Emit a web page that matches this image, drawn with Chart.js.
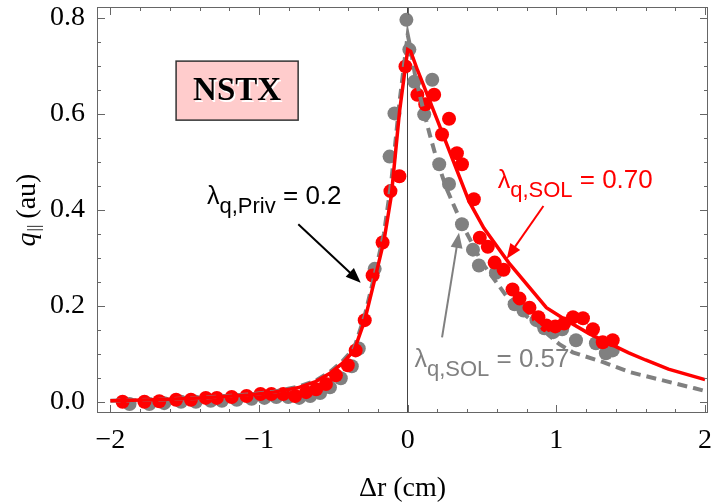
<!DOCTYPE html>
<html><head><meta charset="utf-8">
<script src="https://cdn.jsdelivr.net/npm/chart.js@4.4.0/dist/chart.umd.min.js"></script>
<style>html,body{margin:0;padding:0;background:#fff;}</style>
</head><body>
<canvas id="c" width="715" height="503"></canvas>
<script>
// ---- tick labels ----
const xTicks = [-2, -1, 0, 1, 2];
const yTicks = [0, 0.2, 0.4, 0.6, 0.8];

// ---- measured points (red, lambda_SOL = 0.70 case) ----
const redPtsX = [-1.918,-1.771,-1.671,-1.558,-1.458,-1.358,-1.284,-1.184,-1.084,-0.99,-0.917,-0.837,-0.757,-0.683,-0.616,-0.55,-0.483,-0.403,-0.35,-0.289,-0.236,-0.169,-0.116,-0.056,-0.015,
  0.065,0.118,0.178,0.231,0.278,0.331,0.365,0.445,0.485,0.539,0.585,0.645,0.705,0.752,0.819,0.879,0.933,0.993,1.052,1.112,1.179,1.246,1.312,1.379];
const redPtsY = [0.0,0.0,0.001,0.004,0.004,0.008,0.008,0.010,0.012,0.016,0.016,0.016,0.012,0.020,0.026,0.037,0.055,0.076,0.107,0.170,0.263,0.332,0.439,0.470,0.699,
  0.64,0.62,0.64,0.557,0.59,0.518,0.495,0.422,0.342,0.323,0.29,0.275,0.234,0.215,0.196,0.176,0.159,0.157,0.163,0.176,0.174,0.151,0.124,0.128];

// ---- measured points (gray, lambda_SOL = 0.57 case) ----
const grayPtsX = [-1.871,-1.738,-1.638,-1.525,-1.425,-1.325,-1.25,-1.15,-1.05,-0.964,-0.884,-0.804,-0.73,-0.656,-0.589,-0.523,-0.45,-0.376,-0.329,-0.222,-0.122,-0.089,-0.009,
  0.011,0.045,0.165,0.111,0.212,0.278,0.365,0.439,0.479,0.593,0.719,0.779,0.866,0.919,0.979,1.039,1.132,1.266,1.333,1.379];
const grayPtsY = [-0.005,-0.005,-0.003,0.0,0.0,0.002,0.002,0.004,0.006,0.008,0.010,0.010,0.008,0.012,0.018,0.03,0.049,0.074,0.111,0.277,0.511,0.601,0.796,
  0.734,0.667,0.671,0.599,0.495,0.454,0.37,0.317,0.284,0.269,0.203,0.19,0.17,0.153,0.145,0.151,0.128,0.122,0.101,0.107];

// ---- fitted profiles ----
const redFitX = [-2.0,-1.7,-1.4,-1.07,-0.9,-0.74,-0.62,-0.52,-0.44,-0.36,-0.29,-0.22,-0.16,-0.11,-0.055,0,0.02,0.065,0.198,0.412,0.512,0.679,0.933,1.066,1.22,1.4,1.487,1.6,1.754,1.9,2.0];
const redFitY = [0.002,0.004,0.008,0.014,0.02,0.029,0.042,0.06,0.08,0.107,0.169,0.257,0.335,0.43,0.605,0.734,0.73,0.692,0.588,0.418,0.362,0.29,0.196,0.170,0.142,0.115,0.102,0.087,0.068,0.055,0.046];
const grayFitX = [-2.0,-1.7,-1.4,-1.07,-0.9,-0.74,-0.62,-0.52,-0.44,-0.36,-0.29,-0.22,-0.16,-0.11,-0.055,0,0.02,0.05,0.1,0.15,0.2,0.26,0.366,0.5,0.7,0.85,1.02,1.11,1.31,1.49,1.71,1.93,2.03];
const grayFitY = [0.002,0.004,0.008,0.015,0.021,0.031,0.044,0.063,0.084,0.112,0.178,0.268,0.35,0.46,0.625,0.765,0.735,0.68,0.615,0.555,0.5,0.445,0.37,0.29,0.205,0.165,0.12,0.103,0.083,0.062,0.045,0.028,0.02];

const pts = (xs, ys) => xs.map((v, i) => ({x: v, y: ys[i]}));

const RED = '#ff0000', GRAY = '#808080';
const SERIF = '"Liberation Serif", "Times New Roman", serif';
const SANS = '"Liberation Sans", Arial, sans-serif';

function arrow(ctx, x1, y1, x2, y2, color) {
  const ang = Math.atan2(y2 - y1, x2 - x1), L = 15, W = 6;
  ctx.save();
  ctx.strokeStyle = color; ctx.fillStyle = color; ctx.lineWidth = 2;
  ctx.beginPath();
  ctx.moveTo(x1, y1);
  ctx.lineTo(x2 - L * 0.8 * Math.cos(ang), y2 - L * 0.8 * Math.sin(ang));
  ctx.stroke();
  ctx.beginPath();
  ctx.moveTo(x2, y2);
  ctx.lineTo(x2 - L * Math.cos(ang) + W * Math.sin(ang), y2 - L * Math.sin(ang) - W * Math.cos(ang));
  ctx.lineTo(x2 - L * Math.cos(ang) - W * Math.sin(ang), y2 - L * Math.sin(ang) + W * Math.cos(ang));
  ctx.closePath(); ctx.fill();
  ctx.restore();
}

function lambdaLabel(ctx, x, y, sub, rest, color) {
  ctx.save();
  ctx.fillStyle = color; ctx.textBaseline = 'alphabetic'; ctx.textAlign = 'left';
  ctx.font = '25px ' + SANS;
  ctx.fillText('λ', x, y);
  let cx = x + ctx.measureText('λ').width;
  ctx.font = '22px ' + SANS;
  ctx.fillText(sub, cx, y + 9);
  cx += ctx.measureText(sub).width;
  ctx.font = '26px ' + SANS;
  ctx.fillText(rest, cx, y);
  ctx.restore();
}

const deco = {
  id: 'deco',
  beforeDatasetsDraw(chart) {
    const {ctx, chartArea: a, scales: {x}} = chart;
    const px = Math.round(x.getPixelForValue(0)) - 0.5;
    ctx.save();
    ctx.strokeStyle = '#444'; ctx.lineWidth = 1;
    ctx.beginPath(); ctx.moveTo(px, a.top); ctx.lineTo(px, a.bottom); ctx.stroke();
    ctx.restore();
  },
  afterDatasetsDraw(chart) {
    const {ctx, chartArea: a, scales: {x, y}} = chart;
    const X = v => x.getPixelForValue(v), Y = v => y.getPixelForValue(v);
    ctx.save();
    ctx.strokeStyle = '#666'; ctx.lineWidth = 1;
    ctx.strokeRect(a.left + 0.5, a.top + 0.5, a.width - 1, a.height - 1);
    ctx.beginPath();
    for (let i = -10; i <= 10; i++) {
      const v = i * 0.2, major = i % 5 === 0, L = major ? 8 : 4;
      const p = Math.round(X(v)) + 0.5;
      if (p < a.left || p > a.right) continue;
      ctx.moveTo(p, a.bottom); ctx.lineTo(p, a.bottom - L);
      ctx.moveTo(p, a.top); ctx.lineTo(p, a.top + L);
    }
    for (let i = 0; i <= 16; i++) {
      const v = i * 0.05, major = i % 4 === 0, L = major ? 8 : 4;
      const p = Math.round(Y(v)) + 0.5;
      ctx.moveTo(a.left, p); ctx.lineTo(a.left + L, p);
      ctx.moveTo(a.right, p); ctx.lineTo(a.right - L, p);
    }
    ctx.stroke();
    ctx.restore();

    // NSTX box
    ctx.save();
    const bx1 = X(-1.558), bx2 = X(-0.737), by1 = Y(0.71), by2 = Y(0.587);
    ctx.fillStyle = '#ffcccc'; ctx.fillRect(bx1, by1, bx2 - bx1, by2 - by1);
    ctx.strokeStyle = '#333'; ctx.lineWidth = 1.5; ctx.strokeRect(bx1, by1, bx2 - bx1, by2 - by1);
    ctx.font = 'bold 33px ' + SERIF; ctx.textAlign = 'center'; ctx.textBaseline = 'middle';
    const tx = (bx1 + bx2) / 2, ty = (by1 + by2) / 2 + 1;
    ctx.fillStyle = '#fff'; ctx.fillText('NSTX', tx + 1.5, ty + 1.5);
    ctx.fillStyle = '#000'; ctx.fillText('NSTX', tx, ty);
    ctx.restore();

    // annotations
    lambdaLabel(ctx, X(-1.35), Y(0.412), 'q,Priv', ' = 0.2', '#000');
    arrow(ctx, X(-0.736), Y(0.370), X(-0.316), Y(0.248), '#000');
    lambdaLabel(ctx, X(0.605), Y(0.445), 'q,SOL', ' = 0.70', RED);
    arrow(ctx, X(0.913), Y(0.408), X(0.666), Y(0.298), RED);
    lambdaLabel(ctx, X(0.045), Y(0.072), 'q,SOL', ' = 0.57', GRAY);
    arrow(ctx, X(0.231), Y(0.134), X(0.345), Y(0.352), GRAY);

    // y axis title: q|| (au)
    ctx.save();
    ctx.translate(28, (a.top + a.bottom) / 2);
    ctx.rotate(-Math.PI / 2);
    ctx.fillStyle = '#000'; ctx.textBaseline = 'middle'; ctx.textAlign = 'left';
    ctx.font = 'italic 28px ' + SERIF; const w1 = ctx.measureText('q').width;
    ctx.font = '17px ' + SERIF; const w2 = ctx.measureText('||').width;
    ctx.font = '28px ' + SERIF; const w3 = ctx.measureText(' (au)').width;
    let sx = -(w1 + w2 + w3) / 2;
    ctx.font = 'italic 28px ' + SERIF; ctx.fillText('q', sx, 0); sx += w1 + 1;
    ctx.font = '17px ' + SERIF; ctx.fillText('||', sx, 7); sx += w2 - 1;
    ctx.font = '28px ' + SERIF; ctx.fillText(' (au)', sx, 0);
    ctx.restore();
  }
};

new Chart(document.getElementById('c'), {
  type: 'scatter',
  data: {
    datasets: [
      {data: pts(redFitX, redFitY), showLine: true, borderColor: RED, borderWidth: 3.5, pointRadius: 0, order: 0, tension: 0},
      {data: pts(grayFitX, grayFitY), showLine: true, borderColor: GRAY, borderWidth: 4, borderDash: [10, 6], pointRadius: 0, order: 1, tension: 0},
      {data: pts(redPtsX, redPtsY), showLine: false, pointRadius: 7, pointBackgroundColor: RED, pointBorderWidth: 0, order: 2},
      {data: pts(grayPtsX, grayPtsY), showLine: false, pointRadius: 7, pointBackgroundColor: GRAY, pointBorderWidth: 0, order: 3}
    ]
  },
  options: {
    responsive: false, animation: false, devicePixelRatio: 1, events: [],
    layout: {padding: {top: 5, right: 2, left: 0, bottom: 0}},
    plugins: {legend: {display: false}, tooltip: {enabled: false}},
    scales: {
      x: {
        type: 'linear', min: -2.09, max: 2.02,
        grid: {display: false}, border: {display: false},
        ticks: {color: '#000', font: {family: SERIF, size: 28}, padding: 3,
          callback: v => (v < 0 ? '\u2212' + Math.abs(v) : String(v))},
        afterBuildTicks: s => { s.ticks = xTicks.map(v => ({value: v})); },
        afterFit: s => { s.height = 90; s.paddingLeft = 0; s.paddingRight = 0; },
        title: {display: true, text: 'Δr (cm)', color: '#000', font: {family: SERIF, size: 28}, padding: {top: 0, bottom: -2}}
      },
      y: {
        type: 'linear', min: -0.0235, max: 0.8228,
        grid: {display: false}, border: {display: false},
        ticks: {color: '#000', font: {family: SERIF, size: 28}, padding: 4,
          callback: v => v.toFixed(1)},
        afterBuildTicks: s => { s.ticks = yTicks.map(v => ({value: v})); },
        afterFit: s => { s.width = 97; s.paddingTop = 0; s.paddingBottom = 0; }
      }
    }
  },
  plugins: [deco]
});
</script>
</body></html>
